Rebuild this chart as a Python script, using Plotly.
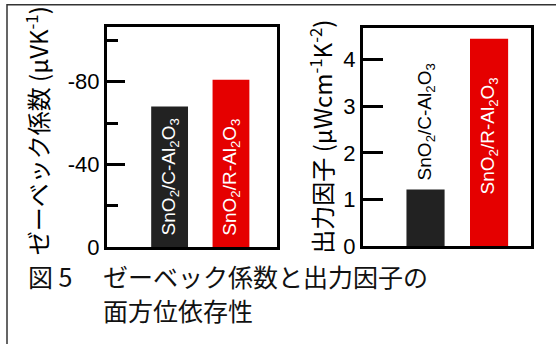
import plotly.graph_objects as go

# ---- data ----
categories = ["SnO2/C-Al2O3", "SnO2/R-Al2O3"]
bar_labels = ["SnO<sub>2</sub>/C-Al<sub>2</sub>O<sub>3</sub>", "SnO<sub>2</sub>/R-Al<sub>2</sub>O<sub>3</sub>"]
seebeck = [-68, -81]          # µV/K
power_factor = [1.22, 4.45]   # µW cm^-1 K^-2
seebeck_ticks = [0, -40, -80]
seebeck_minor = [-20, -60, -100]
pf_ticks = [0, 1, 2, 3, 4]
bar_colors = ["#222222", "#e50000"]

W, H = 556, 344
def px(x):
    return x / W
def py(y):
    return 1 - y / H

fig = go.Figure()
fig.add_trace(go.Bar(x=categories, y=seebeck, marker=dict(color=bar_colors, line=dict(width=0)),
                     width=0.6, xaxis="x", yaxis="y", hoverinfo="skip"))
fig.add_trace(go.Bar(x=categories, y=power_factor, marker=dict(color=bar_colors, line=dict(width=0)),
                     width=0.6, xaxis="x2", yaxis="y2", hoverinfo="skip"))

tickfont = dict(family="Liberation Sans", size=22, color="black")
common_x = dict(showticklabels=False, ticks="", showline=True, mirror=True, linecolor="black",
                linewidth=3, showgrid=False, zeroline=False, type="category")
common_y = dict(showline=True, mirror=True, linecolor="black", linewidth=3, showgrid=False,
                zeroline=False, ticks="inside", tickwidth=3, tickcolor="black",
                tickfont=tickfont)

fig.update_layout(
    width=W, height=H, margin=dict(l=0, r=0, t=0, b=0),
    paper_bgcolor="white", plot_bgcolor="white", showlegend=False,
    xaxis=dict(domain=[px(107), px(277)], range=[-1.02, 1.75], anchor="y", **common_x),
    yaxis=dict(domain=[py(257), py(28)], range=[0, -106.5], anchor="x",
               tickvals=seebeck_ticks, ticktext=[str(t) for t in seebeck_ticks], ticklen=18,
               minor=dict(ticks="inside", ticklen=11, tickwidth=3, tickcolor="black",
                          tickvals=seebeck_minor),
               **common_y),
    xaxis2=dict(domain=[px(363), px(531)], range=[-0.984, 1.66], anchor="y2", **common_x),
    yaxis2=dict(domain=[py(256), py(29)], range=[0, 4.68], anchor="x2",
                tickvals=pf_ticks, ticktext=[str(t) for t in pf_ticks], ticklen=20,
                **common_y),
)

annotations = []
lab_font_w = dict(family="Liberation Sans", size=19, color="white")
lab_font_k = dict(family="Liberation Sans", size=19, color="black")
# left plot bar labels (inside, from bottom)
for c, lab in zip(categories, bar_labels):
    annotations.append(dict(x=c, y=0, xref="x", yref="y", text=lab, textangle=-90,
                            showarrow=False, yanchor="bottom", xanchor="center", yshift=10,
                            font=lab_font_w))
# right plot: black bar label outside, red inside
annotations.append(dict(x=categories[0], y=power_factor[0], xref="x2", yref="y2", text=bar_labels[0],
                        textangle=-90, showarrow=False, yanchor="bottom", xanchor="center", yshift=7,
                        font=lab_font_k))
annotations.append(dict(x=categories[1], y=power_factor[1] / 2, xref="x2", yref="y2", text=bar_labels[1],
                        textangle=-90, showarrow=False, yanchor="middle", xanchor="center", yshift=6,
                        font=lab_font_w))

title_font = dict(family="Noto Sans CJK JP", size=24, color="black")
annotations.append(dict(x=px(37), y=py(136.5), xref="paper", yref="paper",
                        text="ゼーベック係数 (μVK<sup>-1</sup>)", textangle=-90, showarrow=False,
                        xanchor="center", yanchor="middle", font=title_font))
annotations.append(dict(x=px(321), y=py(142), xref="paper", yref="paper",
                        text="出力因子 (μWcm<sup>-1</sup>K<sup>-2</sup>)", textangle=-90, showarrow=False,
                        xanchor="center", yanchor="middle", font=title_font))

cap_font = dict(family="Noto Sans CJK JP", size=25, color="#111111")
annotations.append(dict(x=px(26), y=py(287), xref="paper", yref="paper", text="図 5",
                        showarrow=False, xanchor="left", yanchor="middle", font=cap_font))
annotations.append(dict(x=px(101), y=py(287), xref="paper", yref="paper", text="ゼーベック係数と出力因子の",
                        showarrow=False, xanchor="left", yanchor="middle", font=cap_font))
annotations.append(dict(x=px(101), y=py(322), xref="paper", yref="paper", text="面方位依存性",
                        showarrow=False, xanchor="left", yanchor="middle", font=cap_font))

fig.update_layout(annotations=annotations)

fig.add_shape(type="rect", xref="paper", yref="paper", x0=px(7), x1=1.05, y0=-0.05, y1=py(5),
              line=dict(color="#333333", width=1.5), fillcolor="rgba(0,0,0,0)", layer="above")

fig.write_html("out.html")
